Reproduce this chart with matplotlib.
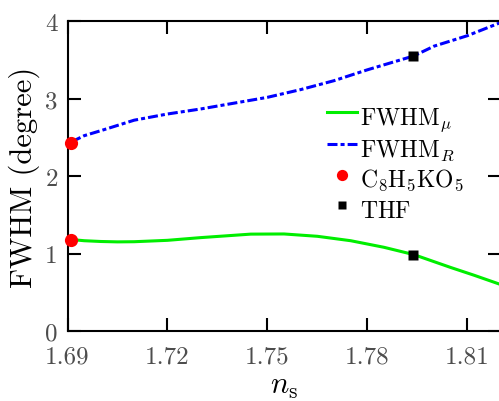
import matplotlib
matplotlib.use("Agg")
import matplotlib.pyplot as plt

plt.rcParams['font.family'] = ['cmr10', 'DejaVu Serif']
plt.rcParams['mathtext.fontset'] = 'cm'
plt.rcParams['axes.formatter.use_mathtext'] = True
plt.rcParams['lines.scale_dashes'] = False

# FWHM_mu (green)
mu_x = [1.6912, 1.695, 1.70, 1.705, 1.71, 1.72, 1.73, 1.74, 1.745, 1.755,
        1.765, 1.775, 1.785, 1.794, 1.805, 1.812, 1.82]
mu_y = [1.18, 1.165, 1.155, 1.15, 1.152, 1.17, 1.205, 1.235, 1.25, 1.252,
        1.222, 1.165, 1.08, 0.985, 0.82, 0.72, 0.60]
# FWHM_R (blue)
r_x = [1.6912, 1.695, 1.70, 1.71, 1.72, 1.73, 1.74, 1.75, 1.76, 1.77,
       1.78, 1.794, 1.80, 1.81, 1.82]
r_y = [2.44, 2.52, 2.585, 2.72, 2.80, 2.865, 2.94, 3.015, 3.115, 3.23,
       3.37, 3.55, 3.675, 3.81, 3.98]
# C8H5KO5 points
c8_x = [1.6912, 1.6912]
c8_y = [1.18, 2.43]
# THF points
thf_x = [1.7938, 1.7938]
thf_y = [0.985, 3.55]

xticks = [1.69, 1.72, 1.75, 1.78, 1.81]
xticklabels = ['1.69', '1.72', '1.75', '1.78', '1.81']
yticks = [0, 1, 2, 3, 4]
yticklabels = ['0', '1', '2', '3', '4']

W, H = 499, 402
fig = plt.figure(figsize=(W / 100, H / 100), dpi=100)
ax = fig.add_axes([67.5 / W, (H - 332) / H, (500.6 - 67.5) / W, 310 / H])

ax.plot(mu_x, mu_y, color='#00ee00', lw=2.2, label=r'$\mathrm{FWHM}_\mu$')
ax.plot(r_x, r_y, color='#0000ff', lw=2.2, linestyle=(0, (7.2, 2.2, 2.9, 2.2)),
        label=r'$\mathrm{FWHM}_R$')
ax.plot(c8_x, c8_y, 'o', color='#ff0000', ms=9.5, mec='none',
        label=r'$\mathrm{C_8H_5KO_5}$', clip_on=False, zorder=5)
ax.plot(thf_x, thf_y, 's', color='black', ms=7.5, mec='none',
        label=r'$\mathrm{THF}$', zorder=5)

ax.set_xlim(1.69, 1.82)
ax.set_ylim(0, 4)
ax.set_xticks(xticks)
ax.set_xticklabels(xticklabels)
ax.set_yticks(yticks)
ax.set_yticklabels(yticklabels)

for s in ax.spines.values():
    s.set_linewidth(1.5)
ax.tick_params(direction='in', length=9.5, width=1.5, top=True, right=True,
               labelsize=18, labelcolor='#4d4d4d')
ax.tick_params(axis='x', pad=10)
ax.tick_params(axis='y', pad=7)

ax.set_ylabel('FWHM (degree)', fontsize=22, labelpad=4)
ax.set_xlabel(r'$n_\mathrm{s}$', fontsize=22, labelpad=4)

leg = ax.legend(loc='upper left', bbox_to_anchor=(327 / W, 1 - 102 / H),
                bbox_transform=fig.transFigure, frameon=False, fontsize=17,
                handlelength=1.25, handletextpad=0.15, labelspacing=0.0,
                handleheight=1.6, borderpad=0, borderaxespad=0,
                markerscale=0.85)

fig.savefig('out.png', dpi=100)
